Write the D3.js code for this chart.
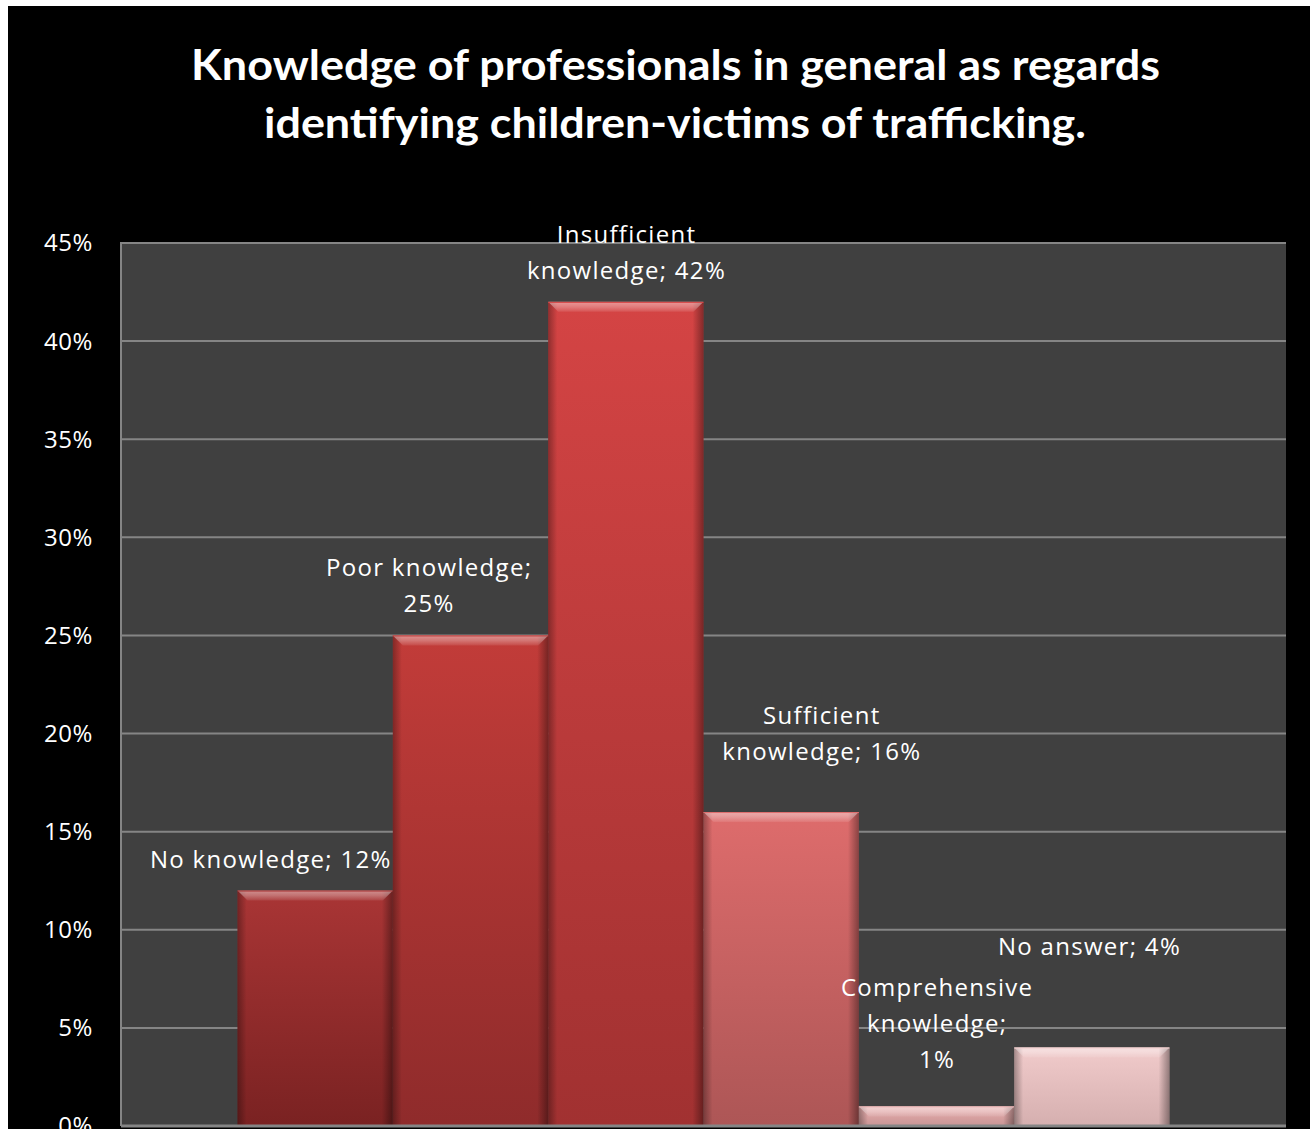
<!DOCTYPE html>
<html>
<head>
<meta charset="utf-8">
<script src="https://cdn.jsdelivr.net/npm/d3@7"></script>
<style>
  html, body { margin: 0; padding: 0; background: #ffffff; }
  svg { display: block; }
</style>
</head>
<body>
<svg id="chart" width="1310" height="1129"></svg>
<script>
// ---- data ----
const titleLines = [
  "Knowledge of professionals in general as regards",
  "identifying children-victims of trafficking."
];
const categories = [
  "No knowledge",
  "Poor knowledge",
  "Insufficient knowledge",
  "Sufficient knowledge",
  "Comprehensive knowledge",
  "No answer"
];
const values = [12, 25, 42, 16, 1, 4];          // percent of respondents
const yTickValues = [0, 5, 10, 15, 20, 25, 30, 35, 40, 45];
const yMax = 45;

// ---- styling / layout ----
const barTopColor    = ["#a93535", "#c23c39", "#d44444", "#de6c6c", "#eab0b0", "#f1cbcb"];
const barBottomColor = ["#7a2222", "#8f2b2b", "#a13131", "#ad5656", "#c89494", "#d5afaf"];
// words per label line, and [dx, dy] nudges of each label from its default spot
const labelLineWords = [[3], [2, 1], [1, 2], [1, 2], [1, 1, 1], [3]];
const labelNudge = [[-45, 0], [-42, 0], [0, 0], [40, -29], [0, -15], [-3, -70]];

const W = 1310, H = 1129;
const plot = { left: 121, right: 1286, top: 243, bottom: 1126 };

const svg = d3.select("#chart");
const defs = svg.append("defs");

// white page with the black chart area
svg.append("rect").attr("width", W).attr("height", H).attr("fill", "#ffffff");
svg.append("rect").attr("x", 8).attr("y", 6).attr("width", W - 8).attr("height", H - 6).attr("fill", "#000000");

// title
svg.append("g").selectAll("text").data(titleLines).join("text")
  .attr("x", (d, i) => i === 0 ? 675.5 : 675)
  .attr("y", (d, i) => 80 + i * 58)
  .attr("text-anchor", "middle")
  .attr("textLength", (d, i) => i === 0 ? 969 : 822)
  .attr("lengthAdjust", "spacingAndGlyphs")
  .attr("fill", "#ffffff")
  .style("font-family", "Lato, 'Open Sans', sans-serif")
  .style("font-weight", 700)
  .style("font-size", "42px")
  .text(d => d);

// scales
const y = d3.scaleLinear().domain([0, yMax]).range([plot.bottom, plot.top]);
const xGroup = d3.scaleBand().domain(["all"]).range([plot.left, plot.right])
  .paddingInner(0).paddingOuter(0.125);
const x = d3.scaleBand().domain(categories).range([0, xGroup.bandwidth()]).padding(0);
const x0 = xGroup("all");

// plot area
svg.append("rect")
  .attr("x", plot.left).attr("y", plot.top)
  .attr("width", plot.right - plot.left).attr("height", plot.bottom - plot.top)
  .attr("fill", "#404040");

// gridlines
svg.append("g").selectAll("line").data(yTickValues.filter(v => v > 0)).join("line")
  .attr("x1", plot.left).attr("x2", plot.right)
  .attr("y1", d => y(d)).attr("y2", d => y(d))
  .attr("stroke", "#858585").attr("stroke-width", 2);

// gradients
categories.forEach((c, i) => {
  const g = defs.append("linearGradient").attr("id", "fill" + i)
    .attr("x1", 0).attr("y1", 0).attr("x2", 0).attr("y2", 1);
  g.append("stop").attr("offset", "0%").attr("stop-color", barTopColor[i]);
  g.append("stop").attr("offset", "100%").attr("stop-color", barBottomColor[i]);
});
const leftShade = defs.append("linearGradient").attr("id", "leftShade")
  .attr("x1", 0).attr("y1", 0).attr("x2", 1).attr("y2", 0);
leftShade.append("stop").attr("offset", "0%").attr("stop-color", "#000").attr("stop-opacity", 0.32);
leftShade.append("stop").attr("offset", "100%").attr("stop-color", "#000").attr("stop-opacity", 0);
const rightShade = defs.append("linearGradient").attr("id", "rightShade")
  .attr("x1", 0).attr("y1", 0).attr("x2", 1).attr("y2", 0);
rightShade.append("stop").attr("offset", "0%").attr("stop-color", "#000").attr("stop-opacity", 0);
rightShade.append("stop").attr("offset", "100%").attr("stop-color", "#000").attr("stop-opacity", 0.38);
const topShine = defs.append("linearGradient").attr("id", "topShine")
  .attr("x1", 0).attr("y1", 0).attr("x2", 0).attr("y2", 1);
topShine.append("stop").attr("offset", "0%").attr("stop-color", "#fff").attr("stop-opacity", 0.45);
topShine.append("stop").attr("offset", "50%").attr("stop-color", "#fff").attr("stop-opacity", 0.3);
topShine.append("stop").attr("offset", "100%").attr("stop-color", "#fff").attr("stop-opacity", 0.08);

// bars with bevelled edges
const bars = svg.append("g").selectAll("g").data(values).join("g")
  .attr("transform", (d, i) => `translate(${x0 + x(categories[i])},0)`);
const bw = x.bandwidth();
bars.append("rect")
  .attr("x", 0).attr("y", d => y(d))
  .attr("width", bw).attr("height", d => y(0) - y(d))
  .attr("fill", (d, i) => `url(#fill${i})`);
bars.append("rect")
  .attr("x", 0).attr("y", d => y(d))
  .attr("width", 9).attr("height", d => y(0) - y(d))
  .attr("fill", "url(#leftShade)");
bars.append("rect")
  .attr("x", bw - 11).attr("y", d => y(d))
  .attr("width", 11).attr("height", d => y(0) - y(d))
  .attr("fill", "url(#rightShade)");
bars.append("path")
  .attr("d", d => {
    const t = y(d), h = Math.min(10, (y(0) - y(d)) * 0.6);
    return `M0,${t}H${bw}L${bw - h},${t + h}H${h}Z`;
  })
  .attr("fill", "url(#topShine)");
bars.append("line")
  .attr("x1", 0).attr("x2", bw)
  .attr("y1", d => y(d) + 0.5).attr("y2", d => y(d) + 0.5)
  .attr("stroke", (d, i) => barTopColor[i]).attr("stroke-width", 1);

// axis lines
svg.append("line")
  .attr("x1", plot.left).attr("x2", plot.left)
  .attr("y1", plot.top - 1).attr("y2", plot.bottom)
  .attr("stroke", "#858585").attr("stroke-width", 2);
svg.append("line")
  .attr("x1", plot.left).attr("x2", plot.right)
  .attr("y1", plot.bottom).attr("y2", plot.bottom)
  .attr("stroke", "#858585").attr("stroke-width", 3);

// y tick labels
const fmt = v => v + "%";
svg.append("g").selectAll("text").data(yTickValues).join("text")
  .attr("x", 93).attr("y", d => y(d)).attr("dy", "0.35em")
  .attr("text-anchor", "end")
  .attr("fill", "#ffffff")
  .style("font-family", "'Open Sans', Lato, sans-serif")
  .style("font-size", "24px")
  .style("letter-spacing", "0.6px")
  .text(fmt);

// data labels
const lineGap = 36;
const labels = svg.append("g")
  .style("font-family", "'Open Sans', Lato, sans-serif")
  .style("font-size", "24px")
  .style("letter-spacing", "1.3px")
  .attr("fill", "#ffffff")
  .attr("text-anchor", "middle");
values.forEach((v, i) => {
  const words = `${categories[i]}; ${fmt(v)}`.split(" ");
  const lines = [];
  let k = 0;
  labelLineWords[i].forEach(n => { lines.push(words.slice(k, k + n).join(" ")); k += n; });
  const cx = x0 + x(categories[i]) + bw / 2 + labelNudge[i][0] + 0.65;
  const lastBase = y(v) - 23 + labelNudge[i][1];
  const t = labels.append("text");
  lines.forEach((ln, j) => {
    t.append("tspan")
      .attr("x", cx)
      .attr("y", lastBase - lineGap * (lines.length - 1 - j))
      .text(ln);
  });
});
</script>
</body>
</html>
